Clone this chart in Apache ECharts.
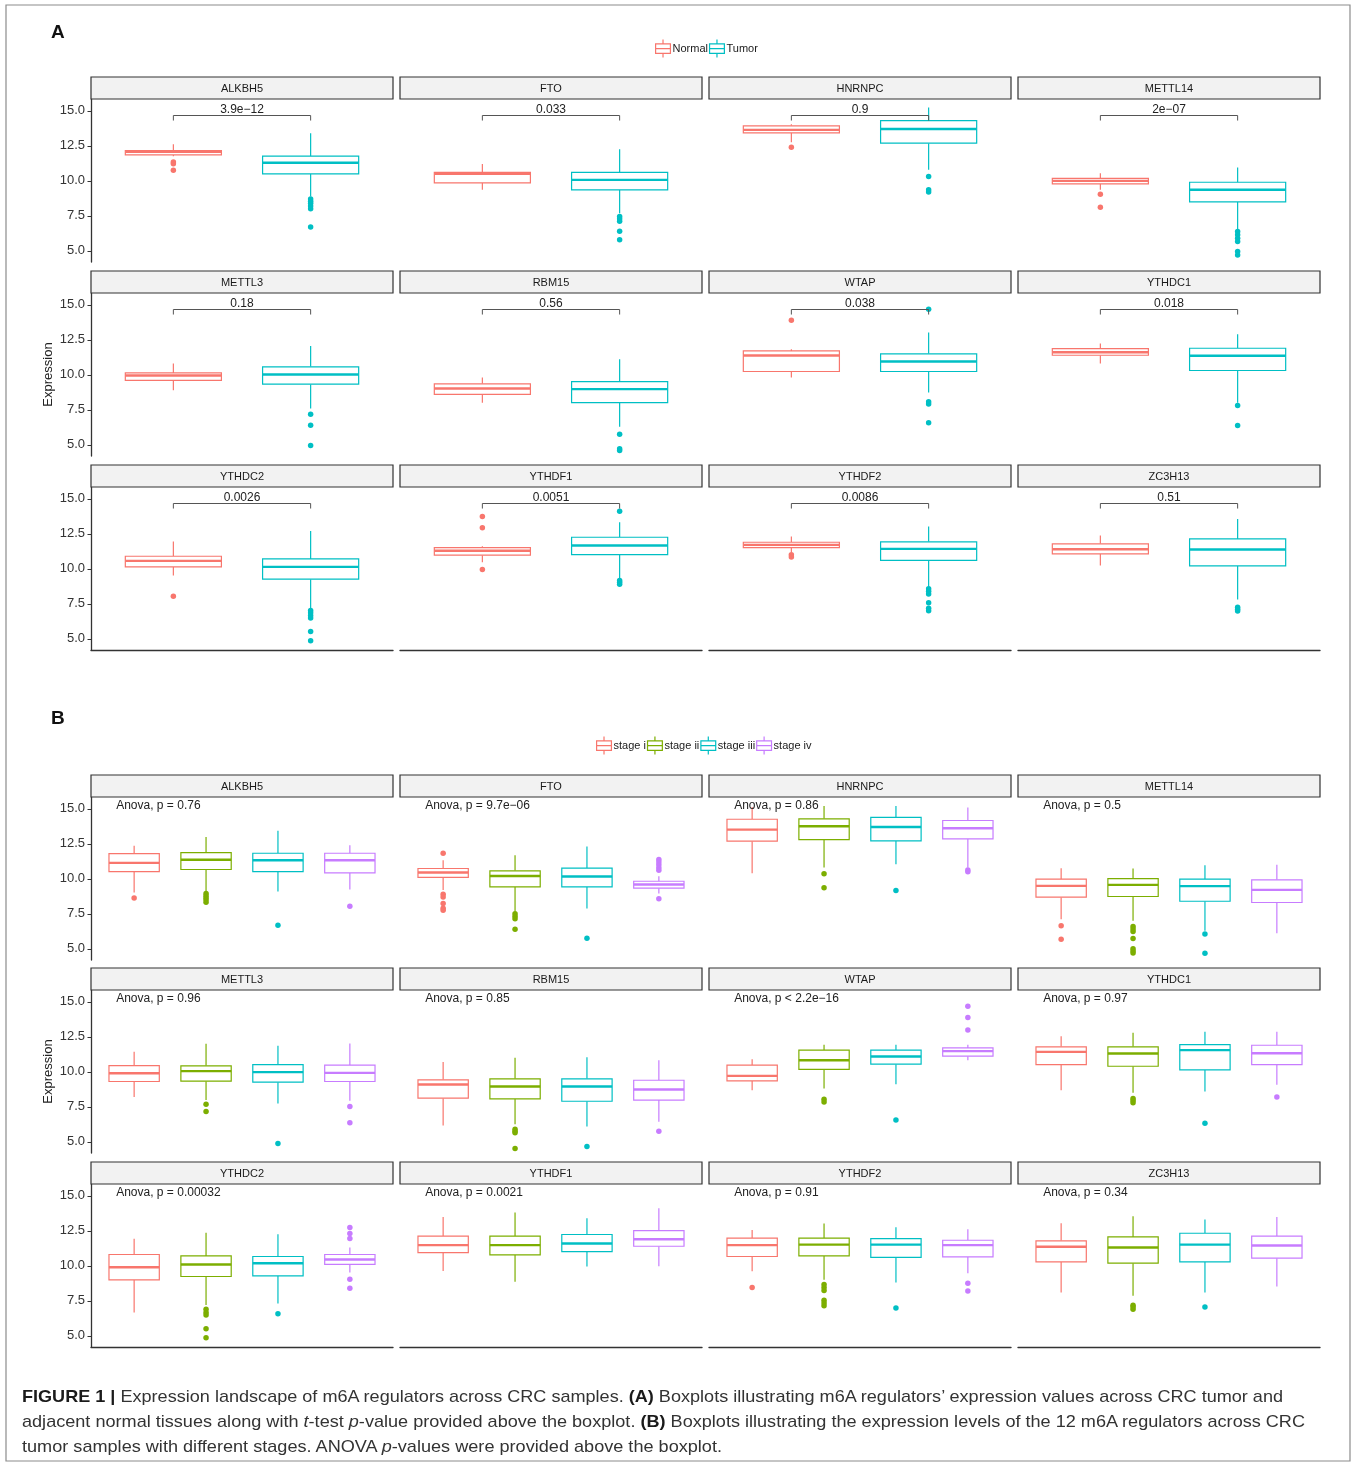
<!DOCTYPE html>
<html>
<head>
<meta charset="utf-8">
<script src="https://cdn.jsdelivr.net/npm/echarts@6/dist/echarts.min.js"></script>
<style>
html,body{margin:0;padding:0;background:#fff;}
#chart{position:absolute;left:0;top:0;width:1357px;height:1465px;}
#caption{position:absolute;left:22px;top:1384px;font-family:"Liberation Sans",Arial,sans-serif;font-size:17px;color:#333;line-height:25px;}
#caption .row{height:25px;white-space:nowrap;}
#caption .ln{display:inline-block;transform-origin:0 50%;white-space:nowrap;}
#caption b{color:#1a1a1a;}
</style>
</head>
<body>
<div id="chart"></div>
<div id="caption">
<div class="row"><span class="ln" data-w="1261"><b>FIGURE 1 |</b> Expression landscape of m6A regulators across CRC samples. <b>(A)</b> Boxplots illustrating m6A regulators’ expression values across CRC tumor and</span></div>
<div class="row"><span class="ln" data-w="1283">adjacent normal tissues along with <i>t</i>-test <i>p</i>-value provided above the boxplot. <b>(B)</b> Boxplots illustrating the expression levels of the 12 m6A regulators across CRC</span></div>
<div class="row"><span class="ln" data-w="700">tumor samples with different stages. ANOVA <i>p</i>-values were provided above the boxplot.</span></div>
</div>
<script>
// ---------------- DATA ----------------
const genes = ['ALKBH5','FTO','HNRNPC','METTL14','METTL3','RBM15','WTAP','YTHDC1','YTHDC2','YTHDF1','YTHDF2','ZC3H13'];
const tissueGroups = ['Normal','Tumor'];
const stageGroups = ['stage i','stage ii','stage iii','stage iv'];
const tTestPValues = ['3.9e\u221212','0.033','0.9','2e\u221207','0.18','0.56','0.038','0.018','0.0026','0.0051','0.0086','0.51'];
const anovaLabels = ['Anova, p = 0.76','Anova, p = 9.7e\u221206','Anova, p = 0.86','Anova, p = 0.5','Anova, p = 0.96','Anova, p = 0.85','Anova, p < 2.2e\u221216','Anova, p = 0.97','Anova, p = 0.00032','Anova, p = 0.0021','Anova, p = 0.91','Anova, p = 0.34'];
const yTickValues = [5, 7.5, 10, 12.5, 15];

// boxes: [min, Q1, median, Q3, max]
const normalBoxes = [
  [11.75,11.85,12.07,12.17,12.62],[9.36,9.86,10.50,10.60,11.21],[12.76,13.43,13.64,13.93,14.05],[9.36,9.79,10.00,10.17,10.55],
  [8.90,9.60,9.95,10.14,10.81],[8.00,8.60,9.02,9.36,9.81],[9.81,10.24,11.38,11.71,11.83],[10.81,11.40,11.62,11.88,12.24],
  [9.52,10.14,10.57,10.90,11.95],[10.48,10.98,11.29,11.52,11.62],[11.19,11.52,11.71,11.90,12.31],[10.24,11.07,11.40,11.79,12.38]
];
const normalOutliers = [[11.35,11.22,10.75],[],[12.40],[9.05,8.12],[],[],[13.90],[],[8.05],[13.74,12.93,9.95],[11.00,10.85],[]];
const tumorBoxes = [
  [8.88,10.50,11.29,11.76,13.40],[7.69,9.36,10.07,10.60,12.26],[10.79,12.69,13.71,14.31,15.24],[6.50,8.50,9.36,9.90,10.95],
  [7.60,9.33,10.02,10.57,12.07],[6.29,8.02,8.98,9.52,11.12],[8.74,10.24,10.95,11.50,13.02],[8.00,10.31,11.36,11.90,12.90],
  [7.14,9.26,10.14,10.71,12.71],[9.29,11.02,11.67,12.26,13.33],[8.69,10.60,11.43,11.93,13.02],[7.81,10.21,11.38,12.14,13.57]
];
const tumorOutliers = [[8.70,8.55,8.40,8.20,8.00,6.70],[7.45,7.30,7.12,6.40,5.79],[10.31,9.36,9.20],[6.38,6.14,5.90,5.67,4.95,4.70],
  [7.19,6.40,4.95],[5.76,4.71,4.60],[14.69,8.07,7.92,6.57],[7.81,6.38],[7.02,6.86,6.67,6.48,5.52,4.86],[14.12,9.17,9.05,8.90],
  [8.57,8.40,8.20,7.57,7.19,7.00],[7.26,7.12,6.98]];

const stageIBoxes = [
  [9.02,10.52,11.14,11.81,12.36],[9.21,10.10,10.45,10.74,11.33],[10.40,12.69,13.52,14.26,15.14],[7.12,8.69,9.50,9.98,10.76],
  [8.21,9.31,9.90,10.45,11.43],[6.17,8.12,9.10,9.43,10.71],[8.69,9.36,9.71,10.48,10.90],[8.69,10.52,11.43,11.79,12.55],
  [6.67,9.00,9.90,10.81,11.93],[9.64,10.95,11.48,12.12,13.50],[9.62,10.67,11.48,11.98,12.57],[8.10,10.29,11.36,11.79,13.05]
];
const stageIOutliers = [[8.64],[11.83,8.90,8.71,8.24,7.90,7.75],[],[6.64,5.69],[],[],[],[],[],[],[8.45],[]];
const stageIIBoxes = [
  [9.14,10.67,11.36,11.88,13.00],[7.67,9.43,10.20,10.57,11.69],[10.81,12.81,13.76,14.29,15.21],[7.00,8.74,9.57,10.02,10.74],
  [7.98,9.33,10.05,10.43,12.00],[6.26,8.07,8.95,9.50,11.00],[8.81,10.17,10.83,11.55,11.93],[8.50,10.40,11.31,11.79,12.79],
  [7.21,9.24,10.10,10.71,12.36],[8.86,10.79,11.48,12.12,13.81],[9.00,10.71,11.52,11.98,13.02],[7.86,10.19,11.31,12.07,13.55]
];
const stageIIOutliers = [[8.95,8.80,8.65,8.50,8.32],[7.50,7.32,7.15,6.40],[10.36,9.36],[6.60,6.42,6.24,5.74,5.00,4.85,4.70],
  [7.69,7.17],[5.90,5.76,5.65,4.52],[8.05,7.85],[8.10,7.95,7.80],[6.90,6.67,6.48,5.50,4.86],[],[8.67,8.45,8.24,7.55,7.35,7.14],[7.19,7.05,6.90]];
const stageIIIBoxes = [
  [9.10,10.52,11.33,11.83,13.43],[7.88,9.43,10.17,10.76,12.31],[11.05,12.71,13.71,14.40,15.21],[6.29,8.40,9.48,9.98,10.98],
  [7.74,9.26,9.98,10.52,11.86],[6.10,7.90,8.95,9.50,11.05],[9.12,10.55,11.10,11.55,11.93],[8.60,10.14,11.55,11.95,12.86],
  [7.31,9.29,10.19,10.67,12.26],[9.95,11.02,11.60,12.24,13.40],[8.81,10.60,11.52,11.95,12.76],[8.10,10.29,11.52,12.33,13.31]
];
const stageIIIOutliers = [[6.69],[5.76],[9.17],[6.05,4.69],[4.88],[4.67],[6.55],[6.33],[6.57],[],[6.98],[7.05]];
const stageIVBoxes = [
  [9.24,10.43,11.33,11.83,12.40],[8.95,9.33,9.60,9.83,10.19],[10.81,12.86,13.62,14.17,15.10],[6.12,8.31,9.21,9.93,11.00],
  [7.93,9.31,9.93,10.48,12.02],[6.43,7.98,8.74,9.40,10.83],[10.83,11.12,11.48,11.71,11.93],[9.07,10.52,11.33,11.90,12.86],
  [9.52,10.10,10.45,10.81,11.31],[9.98,11.40,11.90,12.52,14.12],[9.48,10.64,11.48,11.83,12.62],[8.52,10.55,11.45,12.12,13.50]
];
const stageIVOutliers = [[8.05],[11.38,11.20,11.00,10.80,10.62,8.57],[10.64,10.50],[],[7.52,6.36],[5.76],[14.69,13.88,13.00],[8.21],
  [12.74,12.31,11.95,9.05,8.40],[],[8.76,8.21],[]];

// ---------------- STYLE / LAYOUT ----------------
const FONT = '"Liberation Sans", Arial, Helvetica, sans-serif';
const TISSUE_COLORS = ['#F8766D','#00BFC4'];
const STAGE_COLORS = ['#F8766D','#7CAE00','#00BFC4','#C77CFF'];
const AXIS_COLOR = '#333';
const COLS = [91, 400, 709, 1018];
const PANEL_W = 302, PANEL_H = 163, STRIP_H = 22;
const ROWS_A = [99, 293, 487];
const ROWS_B = [797, 990, 1184];
const Y_MIN = 4.2, Y_MAX = 15.85;
const BOX_W = 0.7;
const BRACKET_Y = 14.67, BRACKET_TIP = 0.36, P_LABEL_Y = 15.07;
const ANOVA_X = 0.75, ANOVA_Y = 15.24;
const BOX_ICON = 'path://M0,4H14V13H0Z M0,8.5H14 M7,0V4 M7,13V17';

const grids = [], xAxes = [], yAxes = [], series = [], graphics = [];

function renderBox(color) {
  return function (params, api) {
    const x = api.value(0);
    const pMin = api.coord([x, api.value(1)]);
    const pQ1 = api.coord([x, api.value(2)]);
    const pMed = api.coord([x, api.value(3)]);
    const pQ3 = api.coord([x, api.value(4)]);
    const pMax = api.coord([x, api.value(5)]);
    const half = api.size([BOX_W, 0])[0] / 2;
    const cx = pMed[0];
    const ls = {stroke: color, lineWidth: 1.2};
    return {
      type: 'group',
      children: [
        {type: 'line', shape: {x1: cx, y1: pMax[1], x2: cx, y2: pQ3[1]}, style: ls},
        {type: 'line', shape: {x1: cx, y1: pQ1[1], x2: cx, y2: pMin[1]}, style: ls},
        {type: 'rect', shape: {x: cx - half, y: pQ3[1], width: 2 * half, height: pQ1[1] - pQ3[1]}, style: {fill: '#fff', stroke: color, lineWidth: 1.2}},
        {type: 'line', shape: {x1: cx - half, y1: pMed[1], x2: cx + half, y2: pMed[1]}, style: {stroke: color, lineWidth: 2.4}}
      ]
    };
  };
}

function renderBracket(label) {
  return function (params, api) {
    const x1 = api.value(0), x2 = api.value(1);
    const a = api.coord([x1, BRACKET_Y]), b = api.coord([x2, BRACKET_Y]);
    const aT = api.coord([x1, BRACKET_Y - BRACKET_TIP]), bT = api.coord([x2, BRACKET_Y - BRACKET_TIP]);
    const t = api.coord([(x1 + x2) / 2, P_LABEL_Y]);
    return {
      type: 'group',
      children: [
        {type: 'polyline', shape: {points: [aT, a, b, bT]}, style: {stroke: '#555', lineWidth: 1, fill: null}},
        {type: 'text', style: {text: label, x: t[0], y: t[1], align: 'center', verticalAlign: 'middle', fontSize: 12, fontFamily: FONT, fill: '#222'}}
      ]
    };
  };
}

function renderAnova(label) {
  return function (params, api) {
    const p = api.coord([api.value(0), api.value(1)]);
    return {type: 'text', style: {text: label, x: p[0], y: p[1], align: 'left', verticalAlign: 'middle', fontSize: 12, fontFamily: FONT, fill: '#222'}};
  };
}

function buildSection(rows, groups, colors, boxSets, outlierSets, kind) {
  genes.forEach(function (gene, i) {
    const r = Math.floor(i / 4), c = i % 4;
    const left = COLS[c], top = rows[r];
    const k = grids.length;
    grids.push({left: left, top: top, width: PANEL_W, height: PANEL_H, containLabel: false, outerBoundsMode: 'none'});
    xAxes.push({
      gridIndex: k, type: 'value', min: 0.4, max: groups.length + 0.6,
      axisLine: {show: r === 2, onZero: false, lineStyle: {color: AXIS_COLOR, width: 1.4}},
      axisTick: {show: false}, axisLabel: {show: false}, splitLine: {show: false}
    });
    yAxes.push({
      gridIndex: k, type: 'value', min: Y_MIN, max: Y_MAX, show: c === 0,
      axisLine: {show: true, onZero: false, lineStyle: {color: AXIS_COLOR, width: 1.3}},
      axisTick: {show: true, length: 3.5, customValues: yTickValues, lineStyle: {color: AXIS_COLOR, width: 1}},
      axisLabel: {show: true, customValues: yTickValues, formatter: function (v) { return Number(v).toFixed(1); }, fontSize: 13, fontFamily: FONT, color: '#333', margin: 6},
      splitLine: {show: false}
    });
    groups.forEach(function (g, j) {
      series.push({
        type: 'custom', name: g, xAxisIndex: k, yAxisIndex: k, coordinateSystem: 'cartesian2d',
        data: [[j + 1].concat(boxSets[j][i])], encode: {x: 0, y: [1, 2, 3, 4, 5]},
        renderItem: renderBox(colors[j]), silent: true, z: 2, itemStyle: {color: colors[j]}
      });
      series.push({
        type: 'scatter', name: g, xAxisIndex: k, yAxisIndex: k,
        data: outlierSets[j][i].map(function (v) { return [j + 1, v]; }),
        symbol: 'circle', symbolSize: 5.5, itemStyle: {color: colors[j], opacity: 1}, silent: true, z: 3
      });
    });
    if (kind === 'ttest') {
      series.push({type: 'custom', name: 'ttest', xAxisIndex: k, yAxisIndex: k, coordinateSystem: 'cartesian2d',
        data: [[1, 2]], encode: {x: [0, 1]}, renderItem: renderBracket(tTestPValues[i]), silent: true, z: 4});
    } else {
      series.push({type: 'custom', name: 'anova', xAxisIndex: k, yAxisIndex: k, coordinateSystem: 'cartesian2d',
        data: [[ANOVA_X, ANOVA_Y]], encode: {x: 0, y: 1}, renderItem: renderAnova(anovaLabels[i]), silent: true, z: 4});
    }
    // facet strip
    graphics.push({type: 'rect', shape: {x: left, y: top - STRIP_H, width: PANEL_W, height: STRIP_H},
      style: {fill: '#f2f2f2', stroke: '#333', lineWidth: 1.2}, silent: true, z: 10});
    graphics.push({type: 'text', x: left + PANEL_W / 2, y: top - STRIP_H / 2 + 0.5,
      style: {text: gene, align: 'center', verticalAlign: 'middle', fontSize: 11, fontFamily: FONT, fill: '#1a1a1a'}, silent: true, z: 11});
  });
}

buildSection(ROWS_A, tissueGroups, TISSUE_COLORS, [normalBoxes, tumorBoxes], [normalOutliers, tumorOutliers], 'ttest');
buildSection(ROWS_B, stageGroups, STAGE_COLORS,
  [stageIBoxes, stageIIBoxes, stageIIIBoxes, stageIVBoxes],
  [stageIOutliers, stageIIOutliers, stageIIIOutliers, stageIVOutliers], 'anova');

// frame, panel letters, y titles
graphics.push({type: 'rect', shape: {x: 6, y: 5, width: 1344, height: 1456}, style: {fill: null, stroke: '#8c8c8c', lineWidth: 1.2}, silent: true, z: 0});
graphics.push({type: 'text', x: 51, y: 33, style: {text: 'A', fontSize: 19, fontWeight: 'bold', fontFamily: FONT, fill: '#111', verticalAlign: 'middle'}, silent: true});
graphics.push({type: 'text', x: 51, y: 719, style: {text: 'B', fontSize: 19, fontWeight: 'bold', fontFamily: FONT, fill: '#111', verticalAlign: 'middle'}, silent: true});
[ROWS_A[1], ROWS_B[1]].forEach(function (t) {
  graphics.push({type: 'text', x: 48, y: t + PANEL_H / 2, rotation: Math.PI / 2,
    style: {text: 'Expression', align: 'center', verticalAlign: 'middle', fontSize: 13, fontFamily: FONT, fill: '#222'}, silent: true});
});

function legendItems(names, colors) {
  return names.map(function (n, j) {
    return {name: n, icon: BOX_ICON, itemStyle: {color: '#fff', borderColor: colors[j], borderWidth: 1.2}};
  });
}

const option = {
  animation: false,
  backgroundColor: '#fff',
  grid: grids,
  xAxis: xAxes,
  yAxis: yAxes,
  series: series,
  legend: [
    {left: 655, top: 39, padding: 0, itemGap: 1, itemWidth: 15, itemHeight: 18, selectedMode: false,
     textStyle: {fontSize: 11, fontFamily: FONT, color: '#1a1a1a', padding: [0, 0, 0, -3]}, data: legendItems(tissueGroups, TISSUE_COLORS)},
    {left: 596, top: 736, padding: 0, itemGap: 1, itemWidth: 15, itemHeight: 18, selectedMode: false,
     textStyle: {fontSize: 11, fontFamily: FONT, color: '#1a1a1a', padding: [0, 0, 0, -3]}, data: legendItems(stageGroups, STAGE_COLORS)}
  ],
  graphic: {elements: graphics}
};

const chart = echarts.init(document.getElementById('chart'), null, {renderer: 'canvas'});
chart.setOption(option);

// fit caption lines to the reference line widths
document.querySelectorAll('#caption .ln').forEach(function (el) {
  const w = el.getBoundingClientRect().width;
  const target = +el.getAttribute('data-w');
  if (w > 0) el.style.transform = 'scaleX(' + (target / w) + ')';
});
</script>
</body>
</html>
